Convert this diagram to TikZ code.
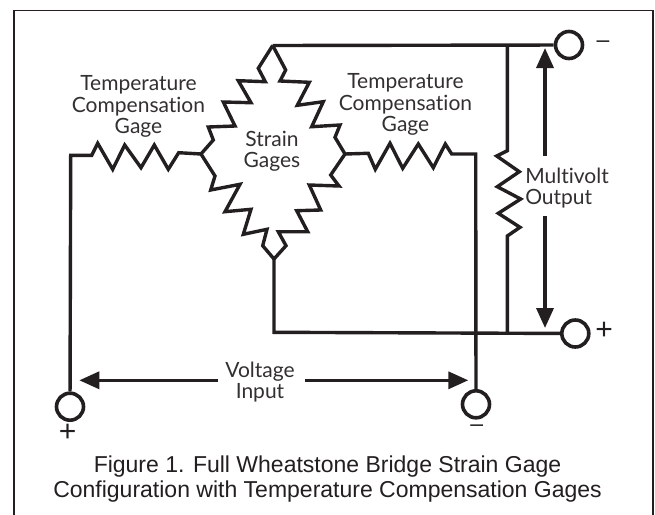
\documentclass[tikz,border=0pt]{standalone}
\usepackage{fontspec}
\setmainfont{Liberation Sans}
\newfontfamily\labelfont[Ligatures=NoCommon]{Lato}
\usetikzlibrary{arrows.meta}
\definecolor{ink}{HTML}{231F20}
\definecolor{txt}{HTML}{333031}
\tikzset{
  wire/.style={draw=ink,line width=3.4pt,line join=miter,miter limit=10},
  term/.style={circle,draw=ink,line width=3.6pt,fill=white,minimum size=27pt,inner sep=0pt},
  dimarrow/.style={draw=ink,line width=3.4pt,-{Triangle[length=20pt,width=17pt]}},
  lab/.style={font=\labelfont\fontsize{21}{21.5}\selectfont,text=txt,align=center,inner sep=0pt},
  plustext/.style={font=\fontsize{30}{30}\selectfont,text=ink,inner sep=0pt},
  minustext/.style={font=\fontsize{23}{23}\selectfont,text=ink,inner sep=0pt},
  captext/.style={font=\fontsize{23}{25.5}\selectfont,text=ink,align=center,inner sep=0pt},
  frameline/.style={draw=ink,line width=1.5pt}
}
\begin{document}
\begin{tikzpicture}[x=1pt,y=-1pt]
\useasboundingbox (0,0) rectangle (655,514);
\fill[white] (0,0) rectangle (655,514);
\draw[frameline] (14,516) -- (14,10.5) -- (653,10.5) -- (653,516);
% junctions
\coordinate (top) at (272.7,45.5);
\coordinate (left) at (201,154);
\coordinate (right) at (345,154);
\coordinate (bot) at (274,259);
\coordinate (tapT) at (507.3,45.5);
\coordinate (tapB) at (507.3,332.3);
\coordinate (botC) at (274,332.3);
% terminals
\node[term] (tm) at (569,45) {};
\node[term] (tp) at (575.3,333.5) {};
\node[term] (ip) at (70,406.7) {};
\node[term] (im) at (476,404.3) {};
% bridge
\draw[wire] (top) -- (258.3,68.3) -- (265.3,81.7) -- (238.3,80.7) -- (251,102.7) -- (223.3,102) -- (235,126) -- (208.3,127) -- (213.3,140) -- (left);
\draw[wire] (top) -- (285.7,70) -- (280,81) -- (309.3,82.3) -- (297.3,105.3) -- (323.3,101.7) -- (311.7,126.7) -- (340,125) -- (335,137.3) -- (right);
\draw[wire] (left) -- (215,176) -- (210.7,190) -- (240,184.3) -- (225,211.7) -- (251,209.3) -- (243.3,234.3) -- (267,229.3) -- (262.7,245.7) -- (bot);
\draw[wire] (right) -- (330.7,175) -- (339,186) -- (309.3,185) -- (320.7,210) -- (296.7,210.7) -- (307.7,231.7) -- (278.3,231.7) -- (286,245.7) -- (bot);
% output wiring
\draw[wire] (top) -- (tm);
\draw[wire] (bot) -- (botC) -- (tp);
\draw[wire] (tapT) -- (507.3,150.7) -- (496.7,156) -- (519.3,171.7) -- (497.3,186.7) -- (520.7,199) -- (498.3,213.3) -- (520,227.3) -- (507.3,236) -- (tapB);
% compensation gages
\draw[wire] (ip) -- (70.7,155.3) -- (91.7,155.3) -- (97.7,143.3) -- (112.7,169.3) -- (124.7,145) -- (141,167.7) -- (154.3,145) -- (168.3,169.3) -- (178.7,152.7) -- (left);
\draw[wire] (right) -- (368.3,153.3) -- (375.3,169.3) -- (390,143.3) -- (402.7,168.3) -- (418.3,144) -- (433.3,167.7) -- (445.3,144) -- (451.7,154) -- (475.7,154) -- (im);
% dimension arrows
\coordinate (mvU) at (545,156);
\coordinate (mvUt) at (545,48);
\coordinate (mvD) at (545,216);
\coordinate (mvDt) at (545,328);
\coordinate (viL) at (218,380.3);
\coordinate (viLt) at (79.3,380.3);
\coordinate (viR) at (305,380.3);
\coordinate (viRt) at (468.3,380.3);
\draw[dimarrow] (mvU) -- (mvUt);
\draw[dimarrow] (mvD) -- (mvDt);
\draw[dimarrow] (viL) -- (viLt);
\draw[dimarrow] (viR) -- (viRt);
% labels
\node[lab] (l1) at (138.5,106.5) {Temperature\\Compensation\\Gage};
\node[lab] (l2) at (405.5,104.5) {Temperature\\Compensation\\Gage};
\node[lab] (l3) at (272,151.5) {Strain\\Gages};
\node[lab,align=left] (l4) at (567,188) {Multivolt\\Output};
\node[lab] (l5) at (260,382) {Voltage\\Input};
\node[minustext] (s1) at (603,44) {–};
\node[plustext] (s2) at (604,330.7) {+};
\node[plustext] (s3) at (67.7,433) {+};
\node[minustext] (s4) at (476.7,428) {–};
\node[captext] (c) at (327.5,479) {Figure 1. Full Wheatstone Bridge Strain Gage\\Configuration with Temperature Compensation Gages};
\end{tikzpicture}
\end{document}
